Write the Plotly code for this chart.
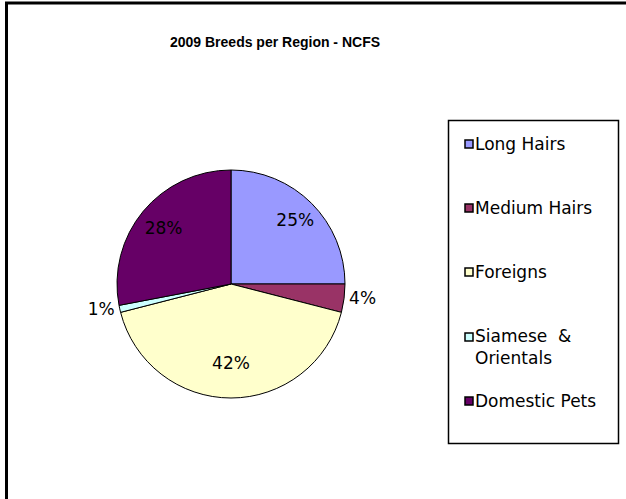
import plotly.graph_objects as go

W, H = 626, 499

title = "2009 Breeds per Region - NCFS"
breeds = ["Long Hairs", "Medium Hairs", "Foreigns", "Siamese & Orientals", "Domestic Pets"]
legend_text = ["Long Hairs", "Medium Hairs", "Foreigns", "Siamese &nbsp;&amp;<br>Orientals", "Domestic Pets"]
shares = [25, 4, 42, 1, 28]
colors = ["#9999FF", "#993366", "#FFFFCC", "#CCFFFF", "#660066"]
# which slices carry their label inside (Excel style) and which outside
inside = [True, False, True, False, True]

FONT = "DejaVu Sans, Verdana, sans-serif"
TITLE_FONT = "Liberation Sans, Arial, sans-serif"


def px(x):
    return x / W


def py(y):
    return 1 - y / H


def dom(rad):
    return dict(x=[px(cx - rad), px(cx + rad)], y=[py(cy + rad), py(cy - rad)])


# pie centre ~ (231, 284) px, radius ~114 px
cx, cy, r = 231, 284, 114

fig = go.Figure()
fig.add_trace(go.Pie(
    labels=breeds,
    values=shares,
    sort=False,
    direction="clockwise",
    rotation=0,
    marker=dict(colors=colors, line=dict(color="black", width=1)),
    texttemplate=["" if i else "%{percent:.0%}" for i in inside],
    textposition="outside",
    textfont=dict(family=FONT, size=17, color="black"),
    domain=dom(r),
    showlegend=False,
    hoverinfo="label+percent",
))
# transparent, slightly larger copy that only carries the inner labels,
# pushing them further out from the centre like Excel does
fig.add_trace(go.Pie(
    labels=breeds,
    values=shares,
    sort=False,
    direction="clockwise",
    rotation=0,
    marker=dict(colors=["rgba(0,0,0,0)"] * len(shares), line=dict(width=0)),
    texttemplate=["%{percent:.0%}" if i else "" for i in inside],
    textposition="inside",
    insidetextorientation="horizontal",
    textfont=dict(family=FONT, size=17, color="black"),
    domain=dom(r * 1.36),
    showlegend=False,
    hoverinfo="skip",
))

shapes = [
    # chart frame (left and top edges visible)
    dict(type="line", xref="paper", yref="paper", x0=px(6.5), x1=px(6.5),
         y0=0, y1=py(2), line=dict(color="black", width=3)),
    dict(type="line", xref="paper", yref="paper", x0=px(5), x1=1,
         y0=py(3), y1=py(3), line=dict(color="black", width=3)),
    # legend box
    dict(type="rect", xref="paper", yref="paper", x0=px(448.5), x1=px(618.5),
         y0=py(443.5), y1=py(120.5), line=dict(color="black", width=1.5),
         fillcolor="white"),
]
annotations = []

row_y = [144, 208, 272, 337, 401]
for name, col, yy in zip(legend_text, colors, row_y):
    shapes.append(dict(type="rect", xref="paper", yref="paper",
                       x0=px(465), x1=px(473), y0=py(yy + 4), y1=py(yy - 4),
                       fillcolor=col, line=dict(color="black", width=1.5)))
    two_line = "<br>" in name
    annotations.append(dict(
        text=name, xref="paper", yref="paper",
        x=px(473), y=py(yy + (10 if two_line else 0)),
        xanchor="left", yanchor="middle", align="left", showarrow=False,
        font=dict(family=FONT, size=17, color="black"),
    ))

fig.update_layout(
    width=W, height=H,
    margin=dict(l=0, r=0, t=0, b=0),
    paper_bgcolor="white",
    plot_bgcolor="white",
    title=dict(text=title, x=px(275), xanchor="center", y=py(42), yanchor="middle",
               font=dict(family=TITLE_FONT, size=14, color="black", weight="bold")),
    shapes=shapes,
    annotations=annotations,
)

fig.write_html("out.html", config={"displayModeBar": False},
               post_script="document.body.style.margin='0';")
